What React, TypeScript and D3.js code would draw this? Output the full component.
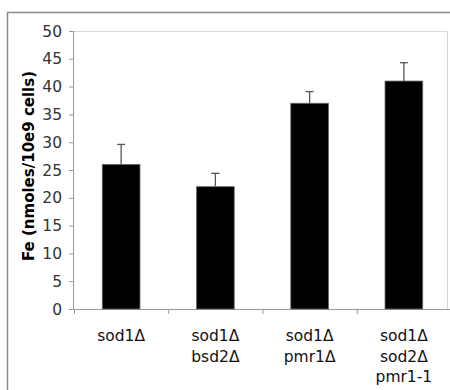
import * as React from "react";
import * as d3 from "d3";

const strains = ["sod1Δ", "sod1Δ\nbsd2Δ", "sod1Δ\npmr1Δ", "sod1Δ\nsod2Δ\npmr1-1"];
const ironLevels = [26, 22, 37, 41];
const ironErrors = [3.6, 2.4, 2.1, 3.3];
const yTicks = [0, 5, 10, 15, 20, 25, 30, 35, 40, 45, 50];

const W = 450;
const H = 390;
const font = "'DejaVu Sans', Verdana, sans-serif";

export default function App() {
  const x = d3.scaleBand().domain(strains).range([74, 451]).paddingInner(0.6).paddingOuter(0.3);
  const y = d3.scaleLinear().domain([0, 50]).range([309, 31]);
  const bounds = d3.range(strains.length + 1).map((i) => 74 + (i * (451 - 74)) / strains.length);

  return (
    <div style={{ position: "absolute", left: 0, top: 0 }}>
      <svg width={W} height={H} style={{ display: "block", background: "#fff" }}>
        {/* outer frame */}
        <path d={`M7.5,${H} V12.5 H${W}`} fill="none" stroke="#8a8a8a" strokeWidth={1.5} />

        {/* plot area */}
        <path d={`M73.5,31.5 H447.5 V309`} fill="none" stroke="#d8d8d8" strokeWidth={1} />
        <line x1={73.5} x2={73.5} y1={31} y2={309} stroke="#9a9a9a" />
        <line x1={73} x2={451} y1={309.5} y2={309.5} stroke="#9a9a9a" />

        {yTicks.map((t) => (
          <g key={t}>
            <line x1={69} x2={73.5} y1={y(t) + 0.5} y2={y(t) + 0.5} stroke="#9a9a9a" />
            <text x={62} y={y(t)} dy="0.36em" textAnchor="end" fontFamily={font} fontSize={15.5} fill="#333">
              {t}
            </text>
          </g>
        ))}

        {bounds.map((b, i) => (
          <line key={i} x1={b + 0.5} x2={b + 0.5} y1={309} y2={314} stroke="#9a9a9a" />
        ))}

        {strains.map((s, i) => {
          const cx = (x(s) as number) + x.bandwidth() / 2;
          const top = y(ironLevels[i] + ironErrors[i]);
          return (
            <g key={s}>
              <line x1={cx} x2={cx} y1={y(ironLevels[i])} y2={top} stroke="#555" strokeWidth={1.3} />
              <line x1={cx - 4} x2={cx + 4} y1={top} y2={top} stroke="#555" strokeWidth={1.3} />
              <rect
                x={x(s)}
                y={y(ironLevels[i])}
                width={x.bandwidth()}
                height={y(0) - y(ironLevels[i])}
                fill="#000"
                stroke="#666"
                strokeWidth={0.8}
              />
              <text textAnchor="middle" fontFamily={font} fontSize={15.5} fill="#111">
                {s.split("\n").map((line, j) => (
                  <tspan key={j} x={cx} y={341 + j * 20.5}>
                    {line}
                  </tspan>
                ))}
              </text>
            </g>
          );
        })}

        <text
          transform={`translate(29,166) rotate(-90)`}
          textAnchor="middle"
          dy="0.36em"
          fontFamily={font}
          fontWeight="bold"
          fontSize={15}
          fill="#000"
        >
          Fe (nmoles/10e9 cells)
        </text>
      </svg>
    </div>
  );
}
